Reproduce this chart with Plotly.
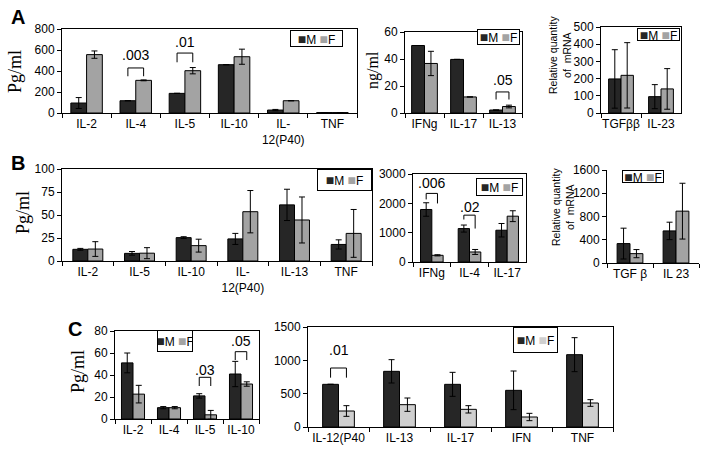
import plotly.graph_objects as go

# ---------------- data ----------------
# Panel A, left (Pg/ml)
a1_cats = ["IL-2", "IL-4", "IL-5", "IL-10", "IL-<br>12(P40)", "TNF"]
a1_m = [95, 117, 187, 460, 28, 4]
a1_m_err = [52, None, None, None, 6, None]
a1_f = [556, 311, 403, 536, 117, 4]
a1_f_err = [35, 4, 30, 72, None, None]

# Panel A, middle (ng/ml)
a2_cats = ["IFNg", "IL-17", "IL-13"]
a2_m = [50, 39.7, 2.2]
a2_m_err = [None, None, None]
a2_f = [36.7, 11.9, 4.8]
a2_f_err = [9, None, 1]

# Panel A, right (relative mRNA)
a3_cats = ["TGFββ", "IL-23"]
a3_m = [198, 95]
a3_m_err = [170, 70]
a3_f = [219, 140]
a3_f_err = [190, 118]

# Panel B, left (Pg/ml)
b1_cats = ["IL-2", "IL-5", "IL-10", "IL-<br>12(P40)", "IL-13", "TNF"]
b1_m = [12.7, 8.3, 25.4, 24, 61, 18]
b1_m_err = [1, 2, 1, 6, 17, 5]
b1_f = [13, 8.5, 16.7, 53.6, 44.6, 30]
b1_f_err = [8, 6, 7, 23, 25, 26]

# Panel B, middle
b2_cats = ["IFNg", "IL-4", "IL-17"]
b2_m = [1790, 1140, 1083]
b2_m_err = [230, 120, 230]
b2_f = [228, 342, 1562]
b2_f_err = [20, 85, 185]

# Panel B, right (relative mRNA)
b3_cats = ["TGF β", "IL 23"]
b3_m = [334, 552]
b3_m_err = [265, 150]
b3_f = [161, 892]
b3_f_err = [70, 480]

# Panel C, left (Pg/ml)
c1_cats = ["IL-2", "IL-4", "IL-5", "IL-10"]
c1_m = [51, 10.3, 21, 40.9]
c1_m_err = [9, 1, 2, 11.5]
c1_f = [22.6, 10.3, 3.8, 31.8]
c1_f_err = [8, 1, 4, 2]

# Panel C, right
c2_cats = ["IL-12(P40", "IL-13", "IL-17", "IFN", "TNF"]
c2_m = [640, 835, 640, 550, 1085]
c2_m_err = [None, 175, 180, 290, 255]
c2_f = [240, 335, 265, 150, 360]
c2_f_err = [80, 100, 55, 55, 50]

# p-value brackets: (panel no, category index, label, bar level, left leg end, right leg end, label level)
brackets = [
    (1, 1, ".003", 429, 350, 350, 556),
    (1, 2, ".01", 571, 483, 483, 678),
    (2, 2, ".05", 15.6, 10, 10, 24.8),
    (5, 0, ".006", 2338, 2133, 1996, 2680),
    (5, 1, ".02", 1597, 1449, 1140, 1882),
    (7, 2, ".03", 37.9, 30, 30, 44.5),
    (7, 3, ".05", 61.2, 53.6, 53.6, 71),
    (8, 0, ".01", 885, 740, 740, 1150),
]

# ---------------- layout helpers ----------------
W, H = 708, 454
M_COL = "#262626"
F_COL = "#a3a3a3"
F_LIGHT = "#cfcfcf"
SANS = "Liberation Sans, Arial, sans-serif"
SERIF = "Liberation Serif, Times New Roman, serif"


def px(x):
    return x / W


def py(y):
    return 1 - y / H


panels = [
    dict(n=1, cats=a1_cats, m=a1_m, me=a1_m_err, f=a1_f, fe=a1_f_err,
         xd=(62, 357), yd=(29, 113), yr=800, dt=200, w=0.32, fc=F_COL, box=True),
    dict(n=2, cats=a2_cats, m=a2_m, me=a2_m_err, f=a2_f, fe=a2_f_err,
         xd=(405, 522), yd=(32, 113), yr=60, dt=20, w=0.33, fc=F_COL, box=True),
    dict(n=3, cats=a3_cats, m=a3_m, me=a3_m_err, f=a3_f, fe=a3_f_err,
         xd=(601, 681), yd=(27, 113), yr=500, dt=100, w=0.31, fc=F_COL, box=True),
    dict(n=4, cats=b1_cats, m=b1_m, me=b1_m_err, f=b1_f, fe=b1_f_err,
         xd=(62, 372), yd=(169, 261), yr=100, dt=25, w=0.29, fc=F_COL, box=True),
    dict(n=5, cats=b2_cats, m=b2_m, me=b2_m_err, f=b2_f, fe=b2_f_err,
         xd=(413, 526), yd=(174, 262), yr=3000, dt=1000, w=0.3, fc=F_COL, box=True),
    dict(n=6, cats=b3_cats, m=b3_m, me=b3_m_err, f=b3_f, fe=b3_f_err,
         xd=(607, 699), yd=(170, 263), yr=1600, dt=400, w=0.28, fc=F_COL, box=False),
    dict(n=7, cats=c1_cats, m=c1_m, me=c1_m_err, f=c1_f, fe=c1_f_err,
         xd=(115, 259), yd=(331, 419), yr=80, dt=20, w=0.32, fc=F_COL, box=True),
    dict(n=8, cats=c2_cats, m=c2_m, me=c2_m_err, f=c2_f, fe=c2_f_err,
         xd=(308, 613), yd=(327, 427), yr=1500, dt=500, w=0.26, fc=F_LIGHT, box=True),
]

fig = go.Figure()
layout = dict(
    width=W, height=H,
    margin=dict(l=0, r=0, t=0, b=0, pad=0, autoexpand=False),
    paper_bgcolor="white", plot_bgcolor="white",
    barmode="overlay", showlegend=False,
    font=dict(family=SANS, size=12, color="black"),
)

for p in panels:
    n = p["n"]
    xa, ya = f"x{n}", f"y{n}"
    w = p["w"]

    def err(a):
        return dict(type="data", array=a, visible=True, color="black", thickness=1, width=3)

    fig.add_trace(go.Bar(
        x=p["cats"], y=p["m"], name="M", xaxis=xa, yaxis=ya,
        width=w, offset=-w, error_y=err(p["me"]),
        marker=dict(color=M_COL, line=dict(color="black", width=1)),
    ))
    fig.add_trace(go.Bar(
        x=p["cats"], y=p["f"], name="F", xaxis=xa, yaxis=ya,
        width=w, offset=0, error_y=err(p["fe"]),
        marker=dict(color=p["fc"], line=dict(color="black", width=1)),
    ))
    ncat = len(p["cats"])
    layout[f"xaxis{n}"] = dict(
        domain=[px(p["xd"][0]), px(p["xd"][1])], anchor=ya, automargin=False,
        type="category", range=[-0.5, ncat - 0.5],
        showline=True, linecolor="black", linewidth=1, mirror=p["box"],
        ticks="outside", tickson="boundaries", ticklen=4, tickcolor="black",
        showgrid=False, zeroline=False, tickangle=0,
        tickfont=dict(family=SANS, size=12, color="black"),
    )
    layout[f"yaxis{n}"] = dict(
        domain=[py(p["yd"][1]), py(p["yd"][0])], anchor=xa, automargin=False,
        range=[0, p["yr"]], dtick=p["dt"], tick0=0,
        showline=True, linecolor="black", linewidth=1, mirror=p["box"],
        ticks="outside", ticklen=4, tickcolor="black",
        showgrid=False, zeroline=False,
        tickfont=dict(family=SANS, size=12, color="black"),
    )

shapes = []
annotations = []
pw = {p["n"]: p["w"] for p in panels}
for (n, ci, label, yb, yl, yrr, yt) in brackets:
    w = pw[n]
    xl, xr = ci - w / 2, ci + w / 2
    ln = dict(color="black", width=1)
    shapes.append(dict(type="line", xref=f"x{n}", yref=f"y{n}", x0=xl, x1=xr, y0=yb, y1=yb, line=ln))
    shapes.append(dict(type="line", xref=f"x{n}", yref=f"y{n}", x0=xl, x1=xl, y0=yb, y1=yl, line=ln))
    shapes.append(dict(type="line", xref=f"x{n}", yref=f"y{n}", x0=xr, x1=xr, y0=yb, y1=yrr, line=ln))
    annotations.append(dict(xref=f"x{n}", yref=f"y{n}", x=ci, y=yt, text=label,
                            showarrow=False, font=dict(family=SANS, size=14, color="black")))

# legends (boxed M / F keys): (center x px, center y px, width, height, F colour)
legend_boxes = [
    (316.5, 38.5, 51, 15, F_COL),
    (498.5, 37, 41, 14, F_COL),
    (658.5, 34, 41, 11, F_COL),
    (344.5, 180, 53, 20, F_COL),
    (499.5, 186.5, 45, 16, F_COL),
    (643, 176, 40, 11, F_COL),
    (175, 341, 34, 20, F_COL),
    (535.5, 340, 43, 24, F_LIGHT),
]
for (cx, cy, bw, bh, fcol) in legend_boxes:
    annotations.append(dict(
        xref="paper", yref="paper", x=px(cx), y=py(cy), xanchor="center", yanchor="middle",
        text=(f'<span style="color:{M_COL};font-size:14px">■</span>M '
              f'<span style="color:{fcol};font-size:14px">■</span>F'),
        showarrow=False, width=bw, height=bh, borderpad=0,
        bordercolor="black", borderwidth=1, bgcolor="white",
        font=dict(family=SANS, size=12, color="black"),
    ))

# y-axis titles
ytitles = [
    (15, 72, "Pg/ml", SERIF, 18),
    (373, 70, "ng/ml", SERIF, 16),
    (23, 213, "Pg/ml", SERIF, 18),
    (78, 372, "Pg/ml", SERIF, 18),
    (560, 55, "Relative quantity<br>of&nbsp; mRNA", SANS, 10.5),
    (563, 207, "Relative quantity<br>of&nbsp; mRNA", SANS, 10.5),
]
for (x, y, t, fam, s) in ytitles:
    annotations.append(dict(xref="paper", yref="paper", x=px(x), y=py(y), text=t,
                            textangle=-90, showarrow=False, xanchor="center", yanchor="middle",
                            font=dict(family=fam, size=s, color="black")))

# panel letters
for (x, y, t) in [(18, 17, "A"), (18, 163, "B"), (75, 329, "C")]:
    annotations.append(dict(xref="paper", yref="paper", x=px(x), y=py(y), text=f"<b>{t}</b>",
                            showarrow=False, xanchor="center", yanchor="middle",
                            font=dict(family=SANS, size=20, color="black")))

layout["shapes"] = shapes
layout["annotations"] = annotations
fig.update_layout(**layout)
fig.write_html(
    "out.html",
    config={"displayModeBar": False},
    post_script="document.body.style.margin='0';document.body.style.padding='0';document.body.style.overflow='hidden';",
)
